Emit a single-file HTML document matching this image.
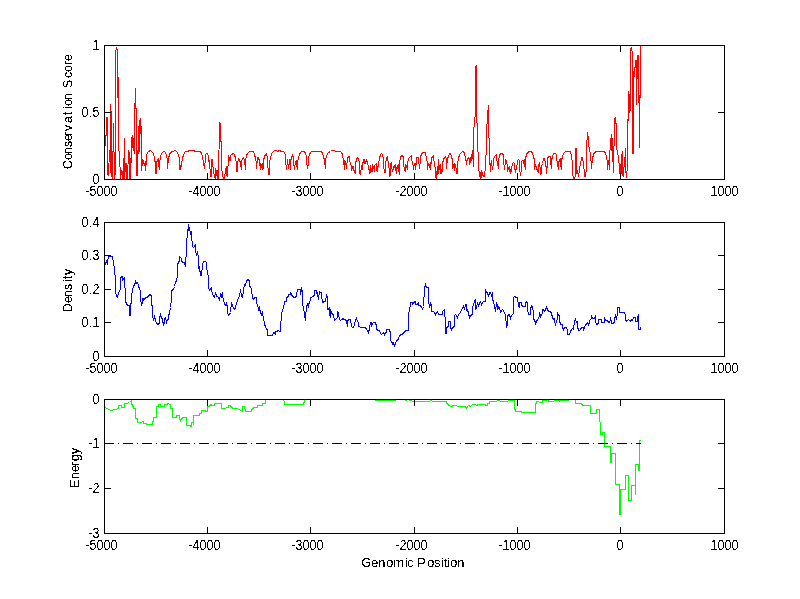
<!DOCTYPE html>
<html lang="en">
<head>
<meta charset="utf-8">
<title>Conservation, Density and Energy vs Genomic Position</title>
<style>
html, body { margin: 0; padding: 0; background: #ffffff; }
body { width: 800px; height: 599px; overflow: hidden; }
svg { display: block; }
text { font-family: "Liberation Sans", Arial, Helvetica, sans-serif; font-size: 13.33px; fill: #000; }
.n { font-size: 14px; }
.ax { shape-rendering: crispEdges; stroke: #000; stroke-width: 1; fill: none; }
.cv { shape-rendering: crispEdges; }
</style>
</head>
<body>
<svg width="800" height="599" viewBox="0 0 800 599">
<defs>
<filter id="crisp" x="0" y="0" width="800" height="599" filterUnits="userSpaceOnUse" color-interpolation-filters="sRGB">
<feComponentTransfer><feFuncA type="discrete" tableValues="0 1"/></feComponentTransfer>
</filter>
<filter id="crisph" x="0" y="0" width="800" height="599" filterUnits="userSpaceOnUse" color-interpolation-filters="sRGB">
<feComponentTransfer><feFuncA type="discrete" tableValues="0 0 0 0 0 0 0 0 0 0 0 0 0 0 0 0 0 0 0 0 0 0 1 1 1 1 1 1 1 1 1 1 1 1 1 1 1 1 1 1 1 1 1 1 1 1 1 1 1 1"/></feComponentTransfer>
</filter>
<filter id="crispr" x="0" y="0" width="800" height="599" filterUnits="userSpaceOnUse" color-interpolation-filters="sRGB">
<feComponentTransfer><feFuncA type="discrete" tableValues="0 0 0 0 0 0 0 0 0 0 0 0 0 0 0 0 0 0 0 1 1 1 1 1 1 1 1 1 1 1 1 1 1 1 1 1 1 1 1 1 1 1 1 1 1 1 1 1 1 1"/></feComponentTransfer>
</filter>
</defs>
<rect x="0" y="0" width="800" height="599" fill="#ffffff"/>

<g>
<polyline points="105.5,145.5 105.5,135.5 106.5,135.5 106.5,117.5 107.5,117.5 107.5,173.5 108.5,175.5 109.5,150.5 110.5,172.5 110.5,104.5 111.5,117.5 111.5,173.5 112.5,179.5 113.5,123.5 114.5,179.5 115.5,170.5 115.5,52.5 116.5,47.5 117.5,51.5 117.5,97.5 118.5,77.5 118.5,146.5 119.5,154.5 120.5,179.5 121.5,170.5 122.5,179.5 123.5,163.5 123.5,179.5 124.5,138.5 124.5,179.5 125.5,163.5 126.5,179.5 126.5,163.5 127.5,167.5 127.5,179.5 128.5,150.5 129.5,154.5 129.5,179.5 130.5,165.5 130.5,179.5 131.5,137.5 131.5,162.5 132.5,135.5 133.5,150.5 133.5,138.5 134.5,153.5 134.5,103.5 135.5,103.5 135.5,87.5 135.5,108.5 136.5,108.5 136.5,175.5 137.5,175.5 138.5,126.5 138.5,153.5 139.5,120.5 139.5,151.5 140.5,118.5 141.5,132.5 141.5,170.5 142.5,159.5 142.5,165.5 143.5,161.5 144.5,164.5 145.5,161.5 145.5,170.5 146.5,160.5 146.5,154.5 148.5,151.5 150.5,150.5 151.5,151.5 153.5,153.5 154.5,158.5 155.5,164.5 155.5,173.5 156.5,173.5 156.5,163.5 157.5,159.5 158.5,158.5 158.5,163.5 159.5,169.5 159.5,164.5 160.5,156.5 161.5,153.5 163.5,151.5 164.5,151.5 165.5,152.5 166.5,155.5 167.5,160.5 167.5,168.5 168.5,158.5 169.5,154.5 170.5,152.5 172.5,151.5 175.5,150.5 176.5,151.5 178.5,154.5 179.5,159.5 179.5,169.5 180.5,165.5 180.5,169.5 181.5,164.5 182.5,158.5 183.5,154.5 185.5,151.5 186.5,151.5 190.5,150.5 193.5,150.5 195.5,151.5 198.5,151.5 200.5,151.5 201.5,153.5 202.5,156.5 203.5,163.5 204.5,168.5 205.5,158.5 205.5,154.5 206.5,153.5 207.5,153.5 208.5,156.5 209.5,166.5 209.5,160.5 210.5,176.5 211.5,176.5 211.5,159.5 212.5,159.5 212.5,163.5 213.5,170.5 214.5,177.5 215.5,178.5 215.5,168.5 216.5,171.5 216.5,175.5 217.5,170.5 217.5,178.5 218.5,178.5 219.5,122.5 220.5,123.5 220.5,141.5 221.5,141.5 221.5,170.5 222.5,171.5 222.5,175.5 223.5,178.5 224.5,178.5 225.5,169.5 226.5,166.5 226.5,175.5 227.5,176.5 228.5,155.5 228.5,163.5 229.5,158.5 230.5,160.5 230.5,155.5 231.5,154.5 233.5,153.5 234.5,154.5 235.5,158.5 236.5,163.5 236.5,171.5 237.5,171.5 237.5,163.5 238.5,158.5 239.5,159.5 240.5,163.5 241.5,169.5 241.5,161.5 242.5,158.5 243.5,157.5 244.5,160.5 245.5,169.5 245.5,161.5 246.5,155.5 247.5,153.5 249.5,151.5 251.5,151.5 253.5,151.5 254.5,154.5 255.5,158.5 256.5,163.5 256.5,168.5 257.5,158.5 257.5,157.5 258.5,157.5 259.5,161.5 260.5,169.5 260.5,163.5 261.5,165.5 262.5,169.5 262.5,163.5 263.5,168.5 263.5,160.5 264.5,156.5 265.5,154.5 266.5,153.5 267.5,158.5 267.5,161.5 268.5,174.5 269.5,174.5 269.5,161.5 270.5,158.5 271.5,153.5 272.5,152.5 274.5,150.5 276.5,150.5 277.5,151.5 279.5,150.5 281.5,151.5 283.5,151.5 284.5,152.5 285.5,155.5 285.5,160.5 286.5,169.5 287.5,160.5 287.5,159.5 288.5,168.5 289.5,159.5 289.5,160.5 290.5,169.5 290.5,161.5 291.5,157.5 292.5,155.5 293.5,157.5 293.5,161.5 294.5,169.5 295.5,161.5 296.5,160.5 296.5,163.5 297.5,169.5 297.5,163.5 298.5,157.5 299.5,154.5 300.5,152.5 301.5,151.5 304.5,151.5 305.5,153.5 306.5,156.5 306.5,161.5 307.5,168.5 308.5,163.5 308.5,157.5 309.5,154.5 310.5,152.5 311.5,151.5 316.5,151.5 321.5,151.5 322.5,153.5 323.5,156.5 324.5,160.5 325.5,168.5 325.5,159.5 326.5,156.5 327.5,153.5 328.5,152.5 330.5,151.5 331.5,150.5 334.5,150.5 335.5,151.5 340.5,151.5 341.5,152.5 342.5,154.5 343.5,160.5 344.5,169.5 344.5,160.5 345.5,161.5 346.5,168.5 347.5,158.5 348.5,156.5 349.5,156.5 349.5,158.5 350.5,164.5 351.5,165.5 351.5,170.5 352.5,166.5 353.5,170.5 353.5,166.5 354.5,172.5 355.5,173.5 355.5,163.5 356.5,159.5 357.5,157.5 358.5,158.5 359.5,163.5 359.5,173.5 360.5,174.5 361.5,165.5 361.5,166.5 362.5,169.5 362.5,164.5 363.5,160.5 364.5,163.5 364.5,159.5 365.5,163.5 366.5,159.5 367.5,163.5 368.5,166.5 369.5,173.5 369.5,169.5 370.5,172.5 370.5,165.5 371.5,171.5 372.5,164.5 372.5,171.5 373.5,166.5 374.5,171.5 374.5,165.5 375.5,164.5 376.5,163.5 376.5,170.5 377.5,166.5 377.5,171.5 378.5,163.5 379.5,158.5 380.5,154.5 381.5,153.5 382.5,154.5 383.5,159.5 383.5,165.5 384.5,172.5 385.5,172.5 385.5,163.5 386.5,158.5 387.5,156.5 387.5,158.5 388.5,163.5 389.5,171.5 389.5,176.5 390.5,175.5 390.5,163.5 391.5,162.5 391.5,166.5 392.5,171.5 393.5,166.5 393.5,169.5 394.5,165.5 395.5,164.5 395.5,168.5 396.5,173.5 396.5,168.5 397.5,165.5 398.5,171.5 398.5,164.5 399.5,174.5 399.5,163.5 400.5,157.5 401.5,155.5 402.5,155.5 403.5,157.5 403.5,163.5 404.5,170.5 405.5,164.5 405.5,171.5 406.5,165.5 407.5,169.5 407.5,163.5 408.5,158.5 410.5,156.5 411.5,155.5 411.5,158.5 412.5,163.5 413.5,166.5 413.5,169.5 414.5,163.5 415.5,163.5 415.5,169.5 416.5,161.5 416.5,157.5 418.5,157.5 418.5,158.5 419.5,168.5 420.5,160.5 420.5,157.5 421.5,153.5 423.5,152.5 425.5,152.5 425.5,153.5 426.5,158.5 427.5,163.5 427.5,169.5 428.5,163.5 429.5,166.5 430.5,162.5 430.5,169.5 431.5,158.5 432.5,156.5 433.5,155.5 433.5,158.5 434.5,163.5 435.5,170.5 435.5,176.5 436.5,178.5 436.5,171.5 437.5,173.5 438.5,159.5 438.5,173.5 439.5,165.5 440.5,173.5 440.5,164.5 441.5,173.5 442.5,170.5 442.5,163.5 443.5,159.5 444.5,157.5 445.5,156.5 446.5,159.5 446.5,168.5 447.5,158.5 448.5,156.5 449.5,153.5 450.5,153.5 451.5,156.5 452.5,160.5 452.5,168.5 453.5,165.5 454.5,170.5 454.5,163.5 455.5,165.5 456.5,170.5 456.5,173.5 457.5,173.5 457.5,163.5 458.5,158.5 459.5,154.5 461.5,152.5 462.5,151.5 463.5,151.5 464.5,153.5 465.5,157.5 466.5,163.5 466.5,164.5 467.5,158.5 468.5,157.5 469.5,159.5 469.5,164.5 470.5,160.5 471.5,154.5 471.5,153.5 471.5,160.5 472.5,150.5 473.5,166.5 473.5,133.5 474.5,120.5 475.5,113.5 475.5,66.5 476.5,66.5 476.5,64.5 476.5,120.5 477.5,125.5 477.5,145.5 478.5,158.5 478.5,166.5 479.5,175.5 480.5,178.5 480.5,173.5 481.5,170.5 481.5,177.5 482.5,173.5 483.5,176.5 484.5,176.5 484.5,173.5 485.5,168.5 485.5,158.5 486.5,151.5 486.5,133.5 487.5,115.5 488.5,105.5 488.5,129.5 489.5,145.5 489.5,158.5 490.5,171.5 490.5,166.5 491.5,160.5 491.5,161.5 492.5,169.5 493.5,163.5 493.5,158.5 495.5,155.5 496.5,154.5 496.5,157.5 497.5,163.5 498.5,168.5 498.5,160.5 499.5,155.5 500.5,153.5 501.5,153.5 503.5,154.5 503.5,159.5 504.5,169.5 505.5,160.5 505.5,159.5 506.5,160.5 507.5,166.5 507.5,171.5 508.5,168.5 509.5,171.5 509.5,166.5 510.5,172.5 510.5,173.5 511.5,169.5 512.5,163.5 513.5,162.5 514.5,163.5 514.5,168.5 515.5,171.5 516.5,166.5 516.5,169.5 517.5,160.5 518.5,159.5 519.5,160.5 519.5,168.5 520.5,175.5 521.5,168.5 521.5,161.5 522.5,160.5 523.5,160.5 524.5,166.5 524.5,159.5 525.5,169.5 525.5,158.5 526.5,154.5 527.5,152.5 529.5,151.5 531.5,151.5 532.5,153.5 533.5,156.5 534.5,160.5 534.5,169.5 535.5,164.5 536.5,169.5 536.5,166.5 537.5,171.5 538.5,172.5 538.5,165.5 539.5,163.5 540.5,170.5 540.5,174.5 541.5,173.5 541.5,166.5 542.5,163.5 543.5,159.5 543.5,158.5 544.5,158.5 545.5,163.5 546.5,169.5 546.5,173.5 547.5,163.5 547.5,158.5 548.5,156.5 550.5,156.5 550.5,160.5 551.5,168.5 551.5,160.5 552.5,156.5 553.5,153.5 555.5,153.5 556.5,154.5 556.5,157.5 557.5,163.5 558.5,169.5 558.5,163.5 559.5,159.5 560.5,158.5 560.5,163.5 561.5,169.5 561.5,160.5 562.5,156.5 563.5,153.5 565.5,151.5 566.5,151.5 569.5,151.5 570.5,151.5 571.5,156.5 572.5,163.5 572.5,173.5 573.5,178.5 574.5,178.5 575.5,175.5 575.5,148.5 576.5,148.5 576.5,173.5 577.5,173.5 577.5,170.5 578.5,176.5 579.5,169.5 579.5,168.5 580.5,163.5 581.5,158.5 581.5,157.5 582.5,157.5 583.5,163.5 584.5,173.5 584.5,176.5 585.5,176.5 586.5,168.5 586.5,148.5 587.5,132.5 587.5,133.5 588.5,138.5 588.5,145.5 589.5,148.5 590.5,155.5 590.5,158.5 591.5,163.5 591.5,168.5 592.5,158.5 593.5,154.5 594.5,152.5 596.5,151.5 598.5,151.5 601.5,151.5 604.5,151.5 605.5,153.5 606.5,156.5 607.5,163.5 607.5,169.5 608.5,160.5 609.5,169.5 609.5,158.5 610.5,142.5 610.5,141.5 611.5,134.5 611.5,139.5 612.5,161.5 612.5,138.5 613.5,172.5 614.5,121.5 614.5,118.5 615.5,117.5 615.5,123.5 616.5,123.5 616.5,148.5 617.5,151.5 618.5,158.5 619.5,166.5 619.5,173.5 620.5,173.5 621.5,154.5 621.5,173.5 622.5,151.5 622.5,175.5 623.5,176.5 624.5,157.5 625.5,158.5 625.5,147.5 625.5,168.5 626.5,177.5 627.5,165.5 627.5,119.5 628.5,120.5 628.5,91.5 629.5,97.5 629.5,112.5 630.5,108.5 630.5,48.5 631.5,47.5 632.5,54.5 632.5,153.5 633.5,153.5 633.5,74.5 634.5,67.5 634.5,76.5 635.5,60.5 636.5,60.5 636.5,104.5 637.5,55.5 638.5,55.5 639.5,147.5 640.5,45.5 640.5,97.5" fill="none" stroke="#ff0000" stroke-width="1" stroke-linejoin="miter" class="cv"/>
<rect class="ax" x="104.5" y="45.5" width="620" height="134"/>
<path class="ax" d="M207.5 179 v-6 M207.5 46 v6 M310.5 179 v-6 M310.5 46 v6 M414.5 179 v-6 M414.5 46 v6 M517.5 179 v-6 M517.5 46 v6 M620.5 179 v-6 M620.5 46 v6 M105 112.5 h6 M724 112.5 h-6"/>
</g>
<g>
<polyline points="104.5,265.5 106.5,261.5 107.5,264.5 107.5,262.5 108.5,256.5 110.5,256.5 112.5,256.5 113.5,262.5 114.5,268.5 115.5,281.5 115.5,290.5 116.5,296.5 117.5,297.5 118.5,292.5 120.5,289.5 120.5,277.5 122.5,276.5 122.5,275.5 122.5,280.5 124.5,277.5 124.5,282.5 125.5,293.5 125.5,301.5 127.5,305.5 129.5,305.5 129.5,315.5 130.5,315.5 130.5,305.5 131.5,301.5 131.5,296.5 132.5,289.5 133.5,286.5 135.5,282.5 135.5,280.5 136.5,283.5 137.5,282.5 138.5,285.5 139.5,289.5 140.5,290.5 140.5,298.5 141.5,305.5 142.5,298.5 142.5,303.5 143.5,298.5 144.5,299.5 145.5,297.5 147.5,297.5 148.5,295.5 150.5,294.5 151.5,296.5 151.5,304.5 152.5,306.5 152.5,316.5 153.5,319.5 154.5,316.5 155.5,320.5 156.5,323.5 158.5,324.5 159.5,322.5 159.5,318.5 160.5,314.5 161.5,317.5 162.5,319.5 163.5,325.5 164.5,318.5 164.5,323.5 165.5,317.5 166.5,322.5 167.5,319.5 168.5,319.5 168.5,315.5 169.5,313.5 170.5,307.5 171.5,299.5 171.5,290.5 173.5,289.5 174.5,286.5 175.5,282.5 176.5,280.5 177.5,275.5 177.5,264.5 179.5,260.5 179.5,256.5 181.5,258.5 181.5,261.5 183.5,262.5 184.5,262.5 185.5,266.5 185.5,257.5 186.5,256.5 186.5,243.5 187.5,233.5 188.5,224.5 188.5,230.5 189.5,228.5 190.5,233.5 191.5,231.5 191.5,235.5 192.5,246.5 193.5,247.5 195.5,244.5 195.5,251.5 196.5,254.5 197.5,252.5 198.5,257.5 198.5,266.5 199.5,271.5 199.5,266.5 200.5,275.5 201.5,275.5 202.5,264.5 203.5,261.5 205.5,261.5 206.5,262.5 206.5,269.5 207.5,270.5 208.5,278.5 208.5,287.5 209.5,290.5 211.5,287.5 211.5,290.5 212.5,293.5 213.5,296.5 214.5,297.5 215.5,292.5 216.5,296.5 217.5,296.5 218.5,297.5 219.5,299.5 220.5,294.5 221.5,296.5 222.5,292.5 222.5,296.5 223.5,299.5 224.5,304.5 225.5,305.5 226.5,302.5 226.5,304.5 227.5,306.5 227.5,312.5 228.5,315.5 229.5,314.5 230.5,312.5 231.5,302.5 232.5,306.5 233.5,307.5 234.5,309.5 235.5,308.5 236.5,302.5 237.5,301.5 238.5,297.5 239.5,296.5 240.5,289.5 241.5,296.5 242.5,297.5 243.5,291.5 243.5,289.5 244.5,284.5 245.5,285.5 246.5,281.5 247.5,279.5 249.5,280.5 249.5,285.5 250.5,287.5 251.5,288.5 252.5,298.5 253.5,299.5 254.5,297.5 256.5,297.5 256.5,303.5 257.5,304.5 258.5,309.5 259.5,306.5 259.5,308.5 260.5,312.5 261.5,314.5 262.5,311.5 262.5,313.5 263.5,317.5 264.5,324.5 265.5,326.5 266.5,329.5 267.5,329.5 267.5,335.5 272.5,335.5 273.5,332.5 274.5,332.5 275.5,334.5 275.5,331.5 277.5,331.5 277.5,330.5 280.5,331.5 280.5,330.5 281.5,312.5 282.5,311.5 282.5,309.5 283.5,308.5 284.5,301.5 286.5,301.5 286.5,297.5 288.5,296.5 288.5,294.5 290.5,294.5 290.5,292.5 291.5,294.5 292.5,296.5 294.5,297.5 295.5,297.5 296.5,295.5 297.5,289.5 300.5,289.5 300.5,294.5 301.5,287.5 302.5,296.5 302.5,289.5 302.5,305.5 303.5,306.5 304.5,315.5 305.5,320.5 305.5,318.5 306.5,306.5 307.5,304.5 308.5,307.5 308.5,305.5 309.5,301.5 310.5,300.5 310.5,297.5 311.5,297.5 312.5,296.5 314.5,295.5 314.5,290.5 316.5,290.5 317.5,296.5 317.5,292.5 318.5,299.5 319.5,291.5 319.5,292.5 321.5,292.5 321.5,294.5 322.5,302.5 324.5,301.5 325.5,301.5 326.5,294.5 327.5,297.5 327.5,309.5 328.5,309.5 329.5,307.5 329.5,313.5 330.5,317.5 330.5,309.5 331.5,312.5 332.5,314.5 333.5,314.5 334.5,320.5 335.5,319.5 336.5,318.5 337.5,317.5 337.5,311.5 338.5,313.5 339.5,319.5 340.5,320.5 341.5,319.5 343.5,318.5 343.5,319.5 345.5,319.5 346.5,321.5 347.5,326.5 347.5,320.5 349.5,319.5 350.5,319.5 351.5,326.5 352.5,327.5 353.5,327.5 355.5,320.5 356.5,318.5 357.5,321.5 358.5,322.5 358.5,326.5 361.5,327.5 365.5,327.5 366.5,329.5 367.5,330.5 368.5,332.5 369.5,328.5 370.5,322.5 371.5,322.5 371.5,326.5 372.5,323.5 373.5,322.5 375.5,322.5 376.5,326.5 376.5,329.5 378.5,330.5 379.5,330.5 380.5,333.5 381.5,334.5 382.5,333.5 383.5,332.5 384.5,334.5 385.5,332.5 386.5,332.5 386.5,329.5 388.5,329.5 389.5,329.5 390.5,333.5 390.5,340.5 391.5,341.5 392.5,344.5 392.5,342.5 393.5,342.5 394.5,346.5 395.5,342.5 396.5,341.5 397.5,339.5 398.5,339.5 399.5,335.5 401.5,334.5 402.5,334.5 403.5,332.5 404.5,332.5 405.5,330.5 406.5,330.5 408.5,330.5 408.5,312.5 409.5,311.5 410.5,302.5 412.5,302.5 412.5,304.5 413.5,302.5 415.5,301.5 415.5,304.5 417.5,304.5 418.5,302.5 418.5,305.5 420.5,305.5 421.5,307.5 422.5,308.5 422.5,309.5 423.5,306.5 424.5,288.5 425.5,284.5 426.5,287.5 428.5,287.5 428.5,299.5 429.5,307.5 430.5,304.5 430.5,302.5 431.5,305.5 431.5,311.5 433.5,311.5 434.5,312.5 435.5,314.5 436.5,312.5 437.5,311.5 438.5,314.5 442.5,314.5 442.5,311.5 444.5,309.5 444.5,312.5 445.5,321.5 445.5,333.5 446.5,333.5 446.5,327.5 448.5,326.5 448.5,321.5 450.5,321.5 450.5,327.5 451.5,329.5 452.5,327.5 454.5,326.5 454.5,315.5 455.5,314.5 456.5,315.5 457.5,317.5 458.5,314.5 460.5,312.5 461.5,309.5 463.5,306.5 463.5,305.5 464.5,309.5 465.5,304.5 466.5,304.5 466.5,310.5 467.5,309.5 468.5,313.5 469.5,317.5 470.5,315.5 472.5,314.5 472.5,306.5 473.5,305.5 474.5,301.5 475.5,299.5 475.5,309.5 476.5,308.5 477.5,302.5 478.5,306.5 479.5,302.5 480.5,301.5 481.5,304.5 482.5,302.5 483.5,301.5 485.5,301.5 485.5,289.5 486.5,292.5 487.5,292.5 488.5,296.5 489.5,292.5 490.5,292.5 491.5,295.5 492.5,292.5 492.5,299.5 493.5,301.5 494.5,305.5 495.5,311.5 496.5,302.5 497.5,309.5 497.5,304.5 498.5,308.5 499.5,307.5 500.5,312.5 502.5,309.5 503.5,310.5 504.5,313.5 505.5,314.5 506.5,327.5 507.5,323.5 507.5,315.5 509.5,314.5 510.5,318.5 511.5,315.5 513.5,313.5 513.5,297.5 514.5,296.5 516.5,297.5 517.5,297.5 518.5,306.5 519.5,307.5 519.5,302.5 521.5,302.5 521.5,305.5 523.5,306.5 525.5,306.5 525.5,302.5 526.5,301.5 527.5,303.5 527.5,309.5 528.5,314.5 530.5,314.5 530.5,309.5 531.5,305.5 532.5,306.5 533.5,312.5 533.5,318.5 535.5,322.5 535.5,324.5 536.5,321.5 537.5,319.5 538.5,318.5 539.5,315.5 539.5,312.5 540.5,316.5 541.5,314.5 542.5,313.5 542.5,309.5 543.5,309.5 544.5,311.5 545.5,310.5 546.5,306.5 547.5,310.5 549.5,311.5 550.5,311.5 551.5,313.5 552.5,317.5 553.5,319.5 554.5,318.5 554.5,321.5 555.5,324.5 556.5,321.5 557.5,318.5 557.5,312.5 558.5,315.5 559.5,315.5 559.5,320.5 560.5,324.5 562.5,324.5 562.5,327.5 563.5,329.5 564.5,327.5 566.5,327.5 567.5,330.5 567.5,334.5 569.5,334.5 570.5,331.5 571.5,329.5 572.5,328.5 573.5,327.5 573.5,329.5 574.5,321.5 575.5,319.5 576.5,322.5 577.5,321.5 577.5,326.5 578.5,330.5 579.5,330.5 580.5,329.5 581.5,327.5 583.5,327.5 583.5,330.5 584.5,326.5 585.5,325.5 586.5,323.5 587.5,322.5 588.5,324.5 589.5,322.5 589.5,320.5 590.5,319.5 591.5,318.5 591.5,315.5 592.5,318.5 594.5,318.5 595.5,315.5 595.5,321.5 596.5,324.5 598.5,323.5 598.5,319.5 600.5,319.5 601.5,319.5 601.5,322.5 604.5,322.5 604.5,317.5 605.5,320.5 607.5,320.5 608.5,322.5 609.5,322.5 610.5,319.5 610.5,317.5 611.5,322.5 611.5,323.5 613.5,323.5 614.5,321.5 614.5,318.5 615.5,315.5 616.5,319.5 617.5,313.5 617.5,307.5 619.5,307.5 619.5,312.5 624.5,312.5 625.5,315.5 625.5,319.5 626.5,321.5 627.5,320.5 628.5,319.5 630.5,321.5 631.5,319.5 632.5,320.5 633.5,317.5 635.5,317.5 635.5,321.5 637.5,321.5 637.5,317.5 638.5,314.5 638.5,329.5 640.5,329.5 640.5,326.5" fill="none" stroke="#0000ff" stroke-width="1" stroke-linejoin="miter" class="cv"/>
<rect class="ax" x="104.5" y="222.5" width="620" height="134"/>
<path class="ax" d="M207.5 356 v-6 M207.5 223 v6 M310.5 356 v-6 M310.5 223 v6 M414.5 356 v-6 M414.5 223 v6 M517.5 356 v-6 M517.5 223 v6 M620.5 356 v-6 M620.5 223 v6 M105 255.5 h6 M724 255.5 h-6 M105 289.5 h6 M724 289.5 h-6 M105 322.5 h6 M724 322.5 h-6"/>
</g>
<g>
<polyline points="105.5,407.5 110.5,410.5 115.5,409.5 118.5,408.5 118.5,405.5 121.5,405.5 121.5,407.5 124.5,407.5 124.5,403.5 126.5,403.5 129.5,402.5 131.5,400.5 131.5,404.5 132.5,404.5 133.5,408.5 135.5,408.5 135.5,418.5 137.5,418.5 137.5,422.5 141.5,422.5 142.5,421.5 143.5,421.5 143.5,423.5 146.5,423.5 146.5,424.5 152.5,424.5 152.5,421.5 153.5,421.5 153.5,417.5 156.5,417.5 156.5,406.5 158.5,406.5 158.5,404.5 160.5,404.5 160.5,406.5 164.5,406.5 164.5,404.5 166.5,404.5 168.5,403.5 169.5,404.5 170.5,404.5 170.5,408.5 172.5,408.5 172.5,417.5 176.5,417.5 176.5,415.5 179.5,415.5 179.5,418.5 180.5,420.5 181.5,418.5 183.5,417.5 186.5,417.5 186.5,425.5 189.5,425.5 191.5,426.5 191.5,422.5 193.5,422.5 193.5,424.5 193.5,415.5 199.5,415.5 199.5,413.5 199.5,415.5 199.5,413.5 201.5,413.5 201.5,410.5 205.5,410.5 205.5,411.5 207.5,411.5 207.5,406.5 209.5,406.5 210.5,404.5 211.5,404.5 211.5,405.5 214.5,405.5 214.5,403.5 221.5,403.5 221.5,408.5 225.5,408.5 226.5,407.5 228.5,407.5 228.5,405.5 230.5,405.5 230.5,406.5 231.5,406.5 232.5,408.5 237.5,408.5 238.5,409.5 239.5,409.5 240.5,410.5 241.5,410.5 242.5,411.5 242.5,406.5 244.5,406.5 245.5,411.5 251.5,411.5 251.5,409.5 252.5,409.5 253.5,407.5 257.5,407.5 257.5,405.5 262.5,405.5 262.5,403.5 265.5,403.5 265.5,399.5 283.5,399.5 283.5,400.5 284.5,401.5 284.5,404.5 295.5,404.5 303.5,404.5 303.5,403.5 304.5,401.5 304.5,399.5 375.5,399.5 375.5,400.5 390.5,400.5 395.5,400.5 395.5,399.5 405.5,399.5 405.5,400.5 406.5,400.5 406.5,399.5 409.5,399.5 409.5,400.5 411.5,400.5 412.5,401.5 429.5,401.5 430.5,400.5 431.5,400.5 432.5,401.5 446.5,401.5 446.5,403.5 447.5,403.5 448.5,405.5 451.5,406.5 453.5,405.5 456.5,405.5 457.5,406.5 465.5,406.5 466.5,408.5 468.5,405.5 470.5,406.5 472.5,404.5 475.5,404.5 476.5,405.5 478.5,404.5 485.5,404.5 485.5,405.5 487.5,405.5 487.5,403.5 489.5,403.5 489.5,401.5 496.5,401.5 497.5,400.5 499.5,400.5 500.5,401.5 507.5,401.5 508.5,400.5 514.5,400.5 514.5,409.5 515.5,409.5 515.5,411.5 521.5,411.5 521.5,412.5 535.5,412.5 535.5,403.5 536.5,403.5 536.5,401.5 538.5,401.5 539.5,402.5 542.5,402.5 542.5,400.5 548.5,400.5 548.5,401.5 553.5,401.5 554.5,400.5 559.5,400.5 559.5,401.5 560.5,400.5 568.5,400.5 568.5,399.5 575.5,399.5 575.5,403.5 581.5,403.5 582.5,405.5 590.5,405.5 590.5,413.5 596.5,413.5 596.5,409.5 599.5,409.5 599.5,421.5 600.5,422.5 600.5,434.5 602.5,434.5 602.5,432.5 604.5,432.5 604.5,446.5 610.5,446.5 610.5,462.5 611.5,462.5 611.5,453.5 615.5,453.5 615.5,484.5 619.5,484.5 619.5,514.5 620.5,514.5 620.5,489.5 625.5,489.5 625.5,475.5 628.5,475.5 628.5,500.5 631.5,500.5 631.5,485.5 635.5,485.5 635.5,494.5 635.5,464.5 638.5,464.5 638.5,470.5 639.5,470.5 639.5,464.5 639.5,440.5 640.5,440.5" fill="none" stroke="#00ff00" stroke-width="1" stroke-linejoin="miter" class="cv"/>
<line x1="104" y1="443.5" x2="641" y2="443.5" stroke="#000" stroke-width="1" stroke-dasharray="10 4 1 4" class="cv"/>
<rect class="ax" x="104.5" y="399.5" width="620" height="134"/>
<path class="ax" d="M207.5 533 v-6 M207.5 400 v6 M310.5 533 v-6 M310.5 400 v6 M414.5 533 v-6 M414.5 400 v6 M517.5 533 v-6 M517.5 400 v6 M620.5 533 v-6 M620.5 400 v6 M105 443.5 h6 M724 443.5 h-6 M105 488.5 h6 M724 488.5 h-6"/>
</g>
<g filter="url(#crisp)">
<text class="n" transform="translate(85.5 196) scale(0.9 1)" x="0 4.444 12.222 20 27.778" y="0">-5000</text>
<text class="n" transform="translate(188.5 196) scale(0.9 1)" x="0 4.444 12.222 20 27.778" y="0">-4000</text>
<text class="n" transform="translate(291.5 196) scale(0.9 1)" x="0 4.444 12.222 20 27.778" y="0">-3000</text>
<text class="n" transform="translate(395.5 196) scale(0.9 1)" x="0 4.444 12.222 20 27.778" y="0">-2000</text>
<text class="n" transform="translate(498.5 196) scale(0.9 1)" x="0 4.444 12.222 20 27.778" y="0">-1000</text>
<text class="n" transform="translate(616.5 196) scale(0.9 1)" x="0" y="0">0</text>
<text class="n" transform="translate(710.5 196) scale(0.9 1)" x="0 7.778 15.556 23.333" y="0">1000</text>
<text class="n" transform="translate(92.5 50) scale(0.9 1)" x="0" y="0">1</text>
<text class="n" transform="translate(81.5 117) scale(0.9 1)" x="0 7.778 12.222" y="0">0.5</text>
<text class="n" transform="translate(92.5 184) scale(0.9 1)" x="0" y="0">0</text>
<text class="n" transform="translate(85.5 373) scale(0.9 1)" x="0 4.444 12.222 20 27.778" y="0">-5000</text>
<text class="n" transform="translate(188.5 373) scale(0.9 1)" x="0 4.444 12.222 20 27.778" y="0">-4000</text>
<text class="n" transform="translate(291.5 373) scale(0.9 1)" x="0 4.444 12.222 20 27.778" y="0">-3000</text>
<text class="n" transform="translate(395.5 373) scale(0.9 1)" x="0 4.444 12.222 20 27.778" y="0">-2000</text>
<text class="n" transform="translate(498.5 373) scale(0.9 1)" x="0 4.444 12.222 20 27.778" y="0">-1000</text>
<text class="n" transform="translate(616.5 373) scale(0.9 1)" x="0" y="0">0</text>
<text class="n" transform="translate(710.5 373) scale(0.9 1)" x="0 7.778 15.556 23.333" y="0">1000</text>
<text class="n" transform="translate(81.5 227) scale(0.9 1)" x="0 7.778 12.222" y="0">0.4</text>
<text class="n" transform="translate(81.5 260) scale(0.9 1)" x="0 7.778 12.222" y="0">0.3</text>
<text class="n" transform="translate(81.5 294) scale(0.9 1)" x="0 7.778 12.222" y="0">0.2</text>
<text class="n" transform="translate(81.5 327) scale(0.9 1)" x="0 7.778 12.222" y="0">0.1</text>
<text class="n" transform="translate(92.5 361) scale(0.9 1)" x="0" y="0">0</text>
<text class="n" transform="translate(85.5 550) scale(0.9 1)" x="0 4.444 12.222 20 27.778" y="0">-5000</text>
<text class="n" transform="translate(188.5 550) scale(0.9 1)" x="0 4.444 12.222 20 27.778" y="0">-4000</text>
<text class="n" transform="translate(291.5 550) scale(0.9 1)" x="0 4.444 12.222 20 27.778" y="0">-3000</text>
<text class="n" transform="translate(395.5 550) scale(0.9 1)" x="0 4.444 12.222 20 27.778" y="0">-2000</text>
<text class="n" transform="translate(498.5 550) scale(0.9 1)" x="0 4.444 12.222 20 27.778" y="0">-1000</text>
<text class="n" transform="translate(616.5 550) scale(0.9 1)" x="0" y="0">0</text>
<text class="n" transform="translate(710.5 550) scale(0.9 1)" x="0 7.778 15.556 23.333" y="0">1000</text>
<text class="n" transform="translate(92.5 404) scale(0.9 1)" x="0" y="0">0</text>
<text class="n" transform="translate(88.5 448) scale(0.9 1)" x="0 4.444" y="0">-1</text>
<text class="n" transform="translate(88.5 493) scale(0.9 1)" x="0 4.444" y="0">-2</text>
<text class="n" transform="translate(88.5 538) scale(0.9 1)" x="0 4.444" y="0">-3</text>
</g>
<g filter="url(#crispr)">
<text transform="translate(72 170) rotate(-90) scale(0.92 1)" x="1.087 10.87 17.391 25 31.522 36.957 42.391 51.087 59.783 66.304 69.565 76.087 83.696 89.13 100 106.522 114.13 118.478" y="0">Conservation Score</text>
<text transform="translate(72 313) rotate(-90) scale(0.92 1)" x="1.087 10.87 17.391 25 33.696 36.957 41.304" y="0">Density</text>
<text transform="translate(79 488) rotate(-90) scale(0.92 1)" x="0 9.783 17.391 23.913 29.348 36.957" y="0">Energy</text>
</g>
<g filter="url(#crisph)">
<text x="361 371 378 386 393 405 407 414 417 427 434 441 444 447 450 457" y="567">Genomic Position</text>
</g>
</svg>
</body>
</html>
